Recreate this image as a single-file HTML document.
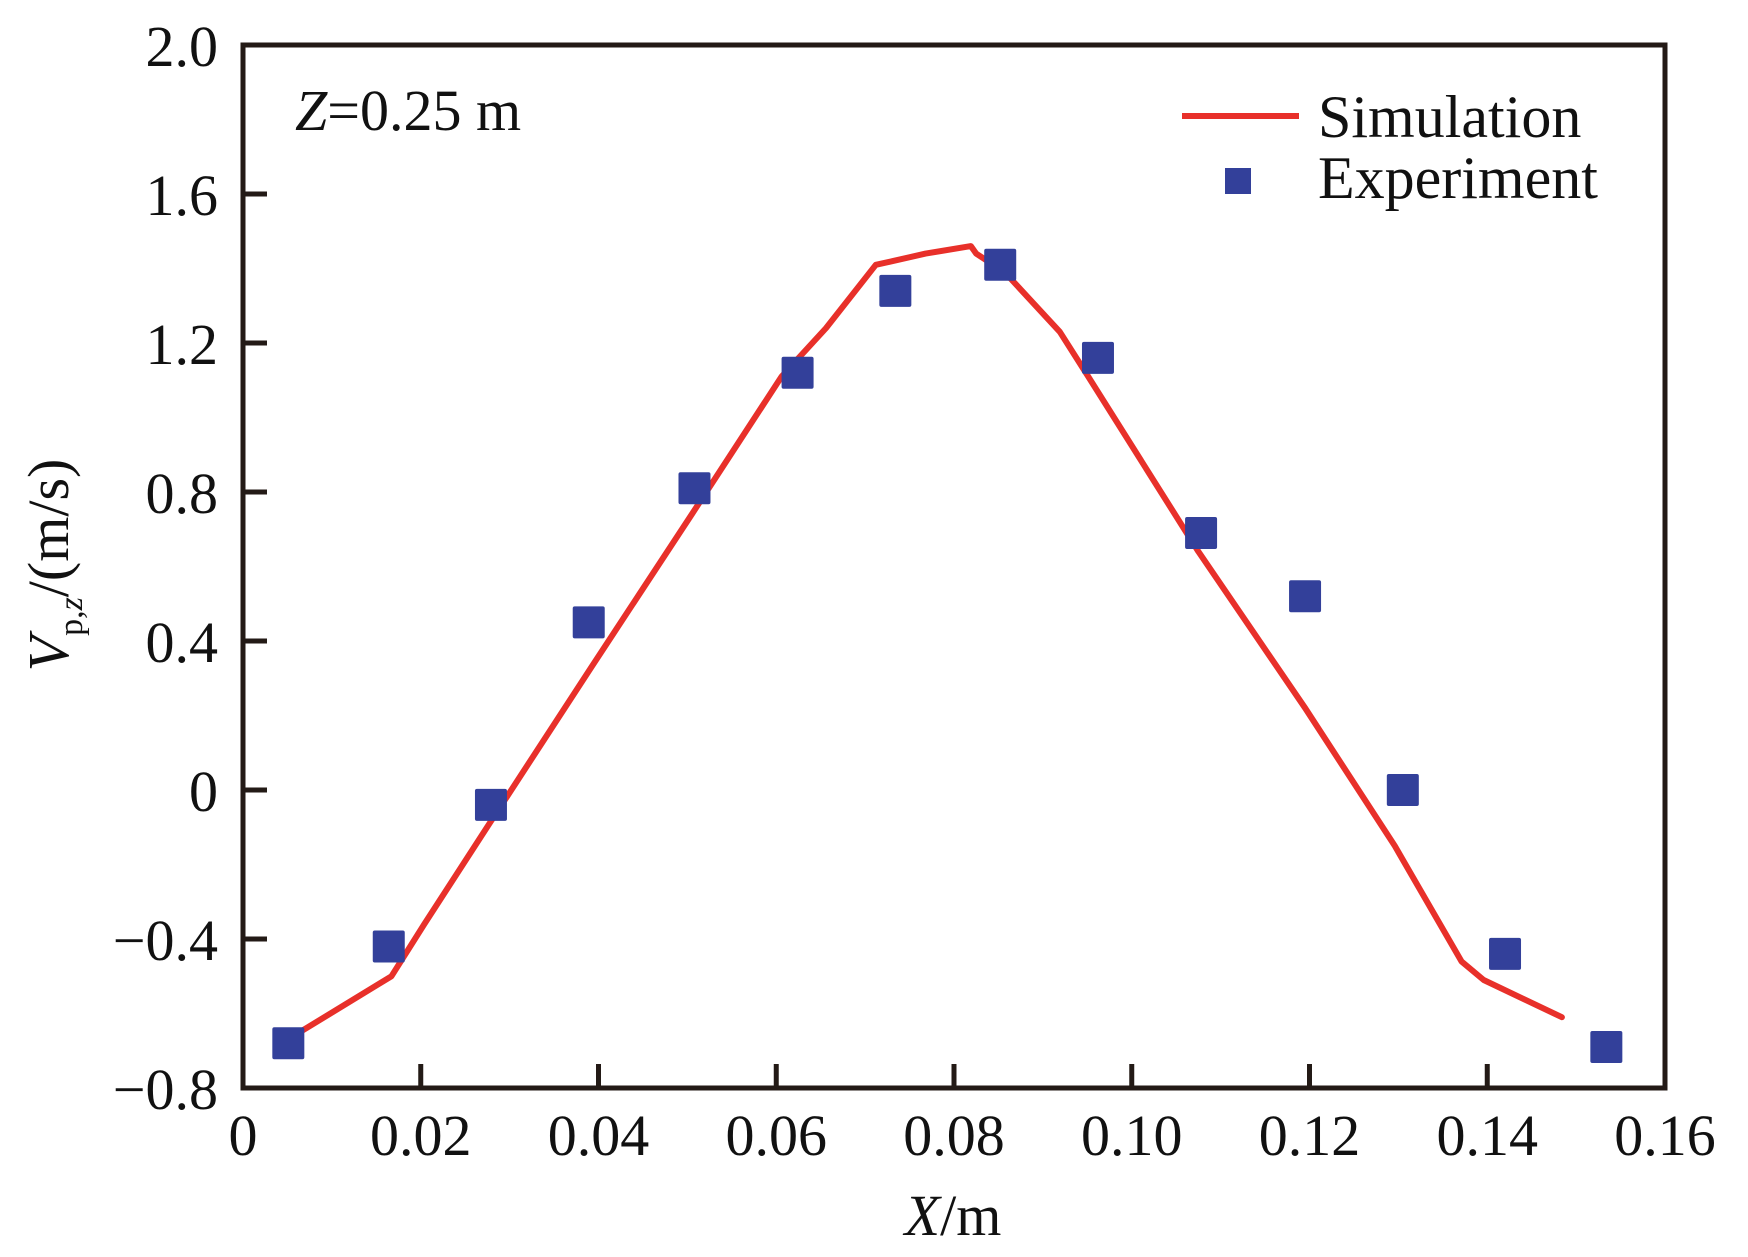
<!DOCTYPE html>
<html><head><meta charset="utf-8"><style>
html,body{margin:0;padding:0;background:#fff}
svg{display:block}
text{font-family:"Liberation Serif",serif;fill:#111}
</style></head><body>
<svg id="chart" width="1748" height="1257" viewBox="0 0 1748 1257">
<g id="axes"></g>
<g id="series"></g>
<text x="295" y="130" font-size="58"><tspan font-style="italic">Z</tspan>=0.25 m</text>
<g>
<line x1="1182" y1="116" x2="1299" y2="116" stroke="#e8302a" stroke-width="6"/>
<text x="1318" y="137" font-size="60">Simulation</text>
<rect x="1225" y="168" width="26" height="26" fill="#33409a"/>
<text x="1318" y="198" font-size="60">Experiment</text>
</g>
<text x="953" y="1235" font-size="58" text-anchor="middle"><tspan font-style="italic">X</tspan>/m</text>
<text transform="translate(68,565) rotate(-90)" font-size="58" text-anchor="middle"><tspan font-style="italic">V</tspan><tspan font-size="34" dy="14">p,<tspan font-style="italic">z</tspan></tspan><tspan dy="-14">/(m/s)</tspan></text>
</svg>
<script>
const xTicks=[0,0.02,0.04,0.06,0.08,0.10,0.12,0.14,0.16];
const xTickLabels=["0","0.02","0.04","0.06","0.08","0.10","0.12","0.14","0.16"];
const yTicks=[-0.8,-0.4,0,0.4,0.8,1.2,1.6,2.0];
const yTickLabels=["\u22120.8","\u22120.4","0","0.4","0.8","1.2","1.6","2.0"];
const simX=[0.0064,0.0167,0.0204,0.0280,0.0392,0.0505,0.0606,0.0656,0.0712,0.0731,0.0768,0.0819,0.0825,0.0857,0.0919,0.0951,0.1075,0.1195,0.1296,0.1371,0.1396,0.1484];
const simY=[-0.65,-0.50,-0.36,-0.08,0.33,0.74,1.11,1.24,1.41,1.42,1.44,1.46,1.44,1.39,1.23,1.11,0.64,0.22,-0.15,-0.46,-0.51,-0.61];
const expX=[0.0051,0.0164,0.0279,0.0389,0.0508,0.0624,0.0734,0.0852,0.0962,0.1078,0.1195,0.1305,0.1420,0.1534];
const expY=[-0.68,-0.42,-0.04,0.45,0.81,1.12,1.34,1.41,1.16,0.69,0.52,0.00,-0.44,-0.69];

const L=243,R=1665,T=45,B=1088;
const xMin=0,xMax=0.16,yMin=-0.8,yMax=2.0;
function sx(v){return L+(v-xMin)/(xMax-xMin)*(R-L);}
function sy(v){return B-(v-yMin)/(yMax-yMin)*(B-T);}
const NS="http://www.w3.org/2000/svg";
function mk(tag,attrs,parent){const e=document.createElementNS(NS,tag);for(const k in attrs)e.setAttribute(k,attrs[k]);parent.appendChild(e);return e;}
const axes=document.getElementById('axes');
const series=document.getElementById('series');

const frame=mk('rect',{x:L,y:T,width:R-L,height:B-T,fill:'none',stroke:'#231a16','stroke-width':5},axes);



xTicks.forEach((v,i)=>{
  if(i>0&&i<xTicks.length-1){
    const t=mk('line',{x1:sx(v),x2:sx(v),y1:B,y2:B-24,stroke:'#231a16','stroke-width':5},axes);
    
    
  }
  const lb=mk('text',{x:sx(v),y:1155,'font-size':58,'text-anchor':'middle'},axes);
  lb.textContent=xTickLabels[i];
  
  
});
yTicks.forEach((v,i)=>{
  if(i>0&&i<yTicks.length-1){
    const t=mk('line',{x1:L,x2:L+24,y1:sy(v),y2:sy(v),stroke:'#231a16','stroke-width':5},axes);
    
    
  }
  const lb=mk('text',{x:218,y:sy(v)+21,'font-size':58,'text-anchor':'end'},axes);
  lb.textContent=yTickLabels[i];
  
  
});

const pts=simX.map((x,i)=>sx(x).toFixed(1)+','+sy(simY[i]).toFixed(1)).join(' ');
const line=mk('polyline',{points:pts,fill:'none',stroke:'#e8302a','stroke-width':6,'stroke-linejoin':'round','stroke-linecap':'round'},series);



expX.forEach((x,i)=>{
  const r=mk('rect',{x:sx(x)-16,y:sy(expY[i])-16,width:32,height:32,fill:'#33409a',rx:2},series);
  
  
});
</script>
</body></html>
